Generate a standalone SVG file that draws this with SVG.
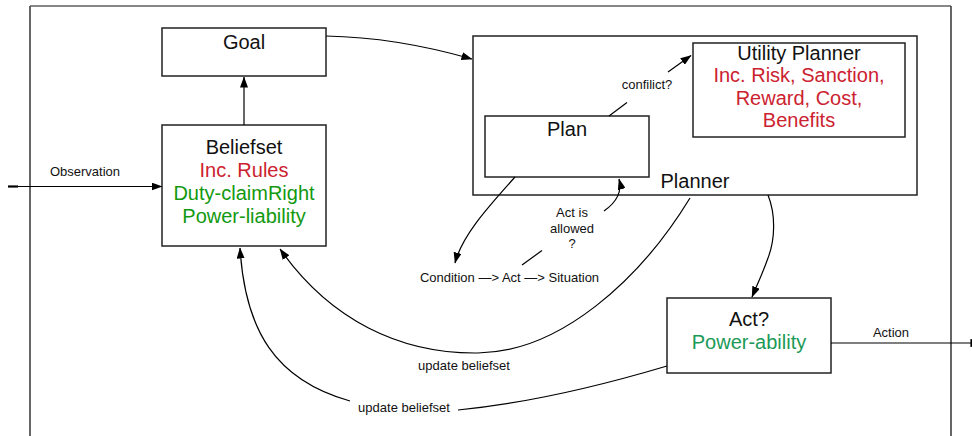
<svg xmlns="http://www.w3.org/2000/svg" width="972" height="436" viewBox="0 0 972 436">
  <defs>
    <marker id="arrow" viewBox="0 0 11 8" refX="10.5" refY="4" markerWidth="11" markerHeight="8" markerUnits="userSpaceOnUse" orient="auto">
      <path d="M0,0 L11,4 L0,8 z" fill="#000"/>
    </marker>
    <style>
      .box { fill: #fff; stroke: #222; stroke-width: 1.5; }
      .edge { fill: none; stroke: #000; stroke-width: 1.2; }
      .title { font-family: "Liberation Sans", Arial, sans-serif; font-size: 20px; fill: #111; text-anchor: middle; }
      .red { fill: #cc2230; }
      .green { fill: #12990f; }
      .teal { fill: #1b9a57; }
      .lbl { font-family: "Liberation Sans", Arial, sans-serif; font-size: 13px; fill: #111; text-anchor: middle; }
    </style>
  </defs>

  <rect width="972" height="436" fill="#fff"/>

  <!-- agent boundary -->
  <g id="frame" fill="none">
    <line x1="30" y1="6" x2="951" y2="6" stroke="#111" stroke-width="1.2"/>
    <line x1="30" y1="6" x2="30" y2="436" stroke="#555" stroke-width="1.8"/>
    <line x1="951" y1="6" x2="951" y2="436" stroke="#555" stroke-width="1.8"/>
  </g>

  <g id="goal">
    <rect class="box" x="162" y="28" width="164" height="48"/>
    <text class="title" x="244" y="49">Goal</text>
  </g>

  <g id="beliefset">
    <rect class="box" x="162" y="125" width="164" height="121"/>
    <text class="title" x="244" y="154">Beliefset</text>
    <text class="title red" x="244" y="177">Inc. Rules</text>
    <text class="title green" x="244" y="200">Duty-claimRight</text>
    <text class="title green" x="244" y="223">Power-liability</text>
  </g>

  <g id="planner">
    <rect class="box" x="473" y="36" width="444" height="159"/>
    <text class="title" x="695" y="188">Planner</text>
  </g>

  <g id="utility-planner">
    <rect class="box" x="693" y="43" width="212" height="94"/>
    <text class="title" x="799" y="60">Utility Planner</text>
    <text class="title red" x="799" y="82">Inc. Risk, Sanction,</text>
    <text class="title red" x="799" y="104.5">Reward, Cost,</text>
    <text class="title red" x="799" y="127">Benefits</text>
  </g>

  <g id="plan">
    <rect class="box" x="485" y="116" width="164" height="61"/>
    <text class="title" x="567" y="136">Plan</text>
  </g>

  <g id="act">
    <rect class="box" x="667" y="298" width="164" height="75"/>
    <text class="title" x="749" y="326">Act?</text>
    <text class="title teal" x="749" y="349">Power-ability</text>
  </g>

  <g id="cycle">
    <text class="lbl" x="509.5" y="282">Condition —&gt; Act —&gt; Situation</text>
  </g>

  <g id="connectors">
    <!-- observation in -->
    <line class="edge" x1="8" y1="186.5" x2="162" y2="186.5" marker-end="url(#arrow)"/>
    <line x1="8" y1="186.5" x2="18" y2="186.5" stroke="#000" stroke-width="2.2"/>
    <text class="lbl" x="85" y="176">Observation</text>

    <!-- beliefset to goal -->
    <line class="edge" x1="244" y1="125" x2="244" y2="77" marker-end="url(#arrow)"/>

    <!-- goal to planner -->
    <path class="edge" d="M326,36 C380,37 430,47 472,59" marker-end="url(#arrow)"/>

    <!-- plan to utility planner -->
    <line class="edge" x1="609" y1="116" x2="627" y2="102.5"/>
    <line class="edge" x1="668" y1="72" x2="691" y2="55.5" marker-end="url(#arrow)"/>
    <text class="lbl" x="647" y="89">confilict?</text>

    <!-- plan to condition -->
    <path class="edge" d="M515,177 C490,205 462,235 455,263" marker-end="url(#arrow)"/>

    <!-- act allowed back to plan -->
    <line class="edge" x1="522" y1="265" x2="542" y2="250.5"/>
    <path class="edge" d="M604,211 C614,204 623,194 619,179" marker-end="url(#arrow)"/>
    <text class="lbl" x="572" y="217">Act is</text>
    <text class="lbl" x="572" y="233">allowed</text>
    <text class="lbl" x="572" y="248">?</text>

    <!-- planner to beliefset -->
    <path class="edge" d="M690,198 C640,280 560,352 478,353 C400,354 330,320 280,249" marker-end="url(#arrow)"/>
    <text class="lbl" x="464" y="370">update beliefset</text>

    <!-- planner to act -->
    <path class="edge" d="M768,195 C776,215 775,240 768,258 C762,275 757,285 752,297" marker-end="url(#arrow)"/>

    <!-- act to beliefset -->
    <path class="edge" d="M667,366 C620,380 540,402 458,410"/>
    <path class="edge" d="M350,401 C275,380 245,330 240,248" marker-end="url(#arrow)"/>
    <text class="lbl" x="404" y="412">update beliefset</text>

    <!-- action out -->
    <line class="edge" x1="831" y1="343" x2="981" y2="343" marker-end="url(#arrow)"/>
    <line x1="971" y1="339" x2="971" y2="347" stroke="#000" stroke-width="1.2"/>
    <text class="lbl" x="891" y="337">Action</text>
  </g>
</svg>
